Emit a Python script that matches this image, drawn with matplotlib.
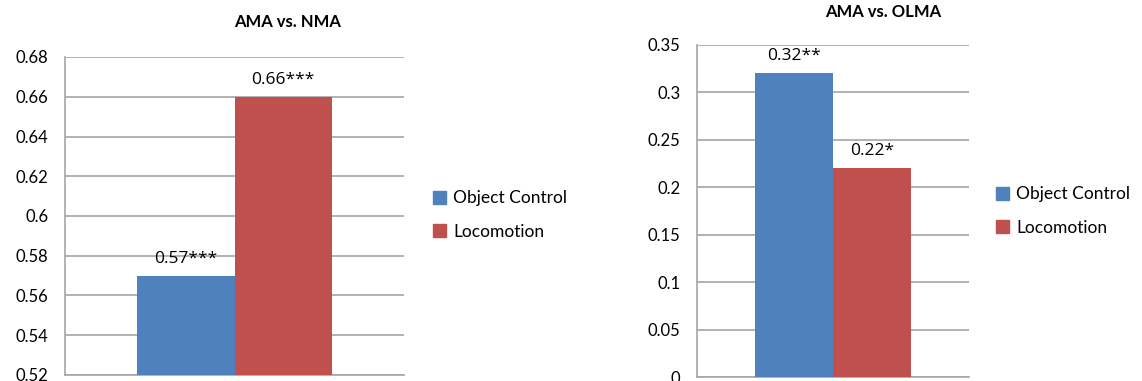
import matplotlib
matplotlib.use("Agg")
import matplotlib.pyplot as plt
from matplotlib.patches import Patch

plt.rcParams['font.family'] = ['Lato', 'DejaVu Sans']

series = ["Object Control", "Locomotion"]
colors = ["#4f81bd", "#c0504d"]

nma_title = "AMA vs. NMA"
nma_values = [0.57, 0.66]
nma_stars = ["***", "***"]
nma_ticks = [0.52, 0.54, 0.56, 0.58, 0.60, 0.62, 0.64, 0.66, 0.68]
nma_ticklabels = ["0.52", "0.54", "0.56", "0.58", "0.6", "0.62", "0.64", "0.66", "0.68"]

olma_title = "AMA vs. OLMA"
olma_values = [0.32, 0.22]
olma_stars = ["**", "*"]
olma_ticks = [0, 0.05, 0.10, 0.15, 0.20, 0.25, 0.30, 0.35]
olma_ticklabels = ["0", "0.05", "0.1", "0.15", "0.2", "0.25", "0.3", "0.35"]

W, H = 1142, 381
fig = plt.figure(figsize=(W / 100, H / 100), dpi=100)


def panel(rect, title, title_xy, values, stars, ticks, ticklabels, legend_xy, label_pad):
    ax = fig.add_axes(rect)
    bw = 0.287
    xs = [-bw / 2, bw / 2]
    ax.bar(xs, values, width=bw, color=colors, zorder=3)
    ax.set_xlim(-0.5, 0.5)
    ax.set_ylim(ticks[0], ticks[-1])
    ax.set_yticks(ticks)
    ax.set_yticklabels(ticklabels, fontsize=12)
    ax.set_xticks([])
    ax.tick_params(axis='y', length=0, pad=12)
    ax.grid(axis='y', color='#a6a6a6', linewidth=1.2, zorder=0)
    for s in ['top', 'right']:
        ax.spines[s].set_visible(False)
    for s in ['left', 'bottom']:
        ax.spines[s].set_color('#a6a6a6')
        ax.spines[s].set_linewidth(1.2)
    for x, v, st in zip(xs, values, stars):
        ax.annotate(f"{v:.2f}{st}", (x, v), xytext=(0, label_pad),
                    textcoords='offset points', ha='center', va='bottom', fontsize=12.5,
                    family=['Open Sans', 'DejaVu Sans'])
    fig.text(title_xy[0] / W, 1 - title_xy[1] / H, title, ha='center', va='center',
             fontsize=12, fontweight='bold')
    handles = [Patch(color=c, label=n) for c, n in zip(colors, series)]
    fig.legend(handles=handles, loc='center left',
               bbox_to_anchor=(legend_xy[0] / W, 1 - legend_xy[1] / H),
               frameon=False, fontsize=12.5, handlelength=0.75, handleheight=0.75,
               handletextpad=0.4, labelspacing=1.0, borderaxespad=0, borderpad=0)
    return ax


panel([65 / W, 1 - 375 / H, (404 - 65) / W, (375 - 57) / H], nma_title, (288, 22),
      nma_values, nma_stars, nma_ticks, nma_ticklabels, (433, 215), 6.5)
panel([697 / W, 1 - 377 / H, (969 - 697) / W, (377 - 45) / H], olma_title, (883, 12),
      olma_values, olma_stars, olma_ticks, olma_ticklabels, (996, 211), 6.5)

fig.savefig("out.png", dpi=100, facecolor="white")
